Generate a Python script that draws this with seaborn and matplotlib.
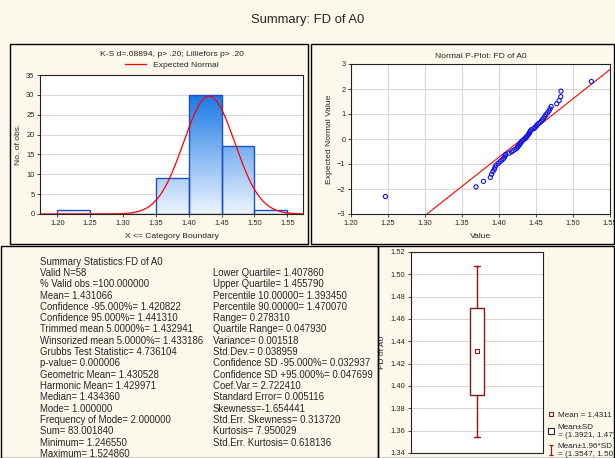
import numpy as np
import matplotlib
matplotlib.use("Agg")
import matplotlib.pyplot as plt
import seaborn as sns
from matplotlib.patches import Rectangle, Patch
from matplotlib.lines import Line2D
from matplotlib.path import Path
from statistics import NormalDist

sns.set_style("white")
plt.rcParams['font.family'] = ['Liberation Sans', 'DejaVu Sans']

fd_values = [1.24655, 1.3690, 1.3790, 1.3883, 1.3900, 1.3918, 1.3937, 1.3946,
             1.3960, 1.3990, 1.4015, 1.4040, 1.4060, 1.4074, 1.4083, 1.4092,
             1.4135, 1.4170, 1.4190, 1.4215, 1.4237, 1.4250, 1.4260, 1.4275,
             1.4284, 1.4293, 1.4302, 1.4318, 1.4333, 1.4354, 1.4365, 1.4378,
             1.4390, 1.4400, 1.4410, 1.4418, 1.4425, 1.4440, 1.4475, 1.4488,
             1.4505, 1.4515, 1.4535, 1.4558, 1.4575, 1.4590, 1.4605, 1.4620,
             1.4635, 1.4655, 1.4675, 1.4690, 1.4705, 1.4780, 1.4812, 1.4834,
             1.4838, 1.52486]
bin_edges = [1.20, 1.25, 1.30, 1.35, 1.40, 1.45, 1.50, 1.55]
mean_val = 1.431066
sd_val = 0.038959

left_stats = ["Summary Statistics:FD of A0", "Valid N=58", "% Valid obs.=100.000000",
              "Mean= 1.431066", "Confidence -95.000%= 1.420822",
              "Confidence 95.000%= 1.441310", "Trimmed mean 5.0000%= 1.432941",
              "Winsorized mean 5.0000%= 1.433186", "Grubbs Test Statistic= 4.736104",
              "p-value= 0.000006", "Geometric Mean= 1.430528", "Harmonic Mean= 1.429971",
              "Median= 1.434360", "Mode= 1.000000", "Frequency of Mode= 2.000000",
              "Sum= 83.001840", "Minimum= 1.246550", "Maximum= 1.524860"]
right_stats = ["Lower Quartile= 1.407860", "Upper Quartile= 1.455790",
               "Percentile 10.00000= 1.393450", "Percentile 90.00000= 1.470070",
               "Range= 0.278310", "Quartile Range= 0.047930", "Variance= 0.001518",
               "Std.Dev.= 0.038959", "Confidence SD -95.000%= 0.032937",
               "Confidence SD +95.000%= 0.047699", "Coef.Var.= 2.722410",
               "Standard Error= 0.005116", "Skewness=-1.654441",
               "Std.Err. Skewness= 0.313720", "Kurtosis= 7.950029",
               "Std.Err. Kurtosis= 0.618136"]

W, H = 615, 458
bg = "#fdf8ec"
fig = plt.figure(figsize=(W / 100, H / 100), dpi=100, facecolor=bg)


def fx(px):
    return px / W


def fy(py):
    return 1 - py / H


def box_rect(x0, y0, x1, y1):
    fig.add_artist(Rectangle((fx(x0), fy(y1)), fx(x1 - x0), (y1 - y0) / H,
                             transform=fig.transFigure, fill=False, ec="black", lw=1))


box_rect(9.5, 44, 308, 244)
box_rect(311, 44, 614, 244)
box_rect(0.5, 246, 378, 457.5)
box_rect(378, 246, 614, 457.5)

fig.text(0.5, fy(20), "Summary: FD of A0", ha="center", va="center", fontsize=9.4)

tick_fs = 5.4
lab_fs = 6.1

# ---- histogram ----
ax1 = fig.add_axes([fx(40), fy(214), fx(263), 139 / H])
ax1.set_facecolor("white")
sns.histplot(x=fd_values, bins=bin_edges, ax=ax1, stat="count",
             color="#3b8ef0", edgecolor="#1d4fc4", linewidth=1, alpha=1)
grad = np.linspace(0, 1, 256).reshape(-1, 1)
cmap = matplotlib.colors.LinearSegmentedColormap.from_list("g", ["#eef5fe", "#1a78e6"])
for p in ax1.patches:
    if p.get_height() <= 0:
        continue
    im = ax1.imshow(grad, extent=[p.get_x(), p.get_x() + p.get_width(), 0, 30],
                    origin="lower", cmap=cmap, aspect="auto", zorder=1.5)
    im.set_clip_path(p)
    p.set_facecolor("none")
    p.set_zorder(2)
ax1.set_xlim(1.1737, 1.5739)
ax1.set_ylim(0, 35)
xs = np.linspace(1.1737, 1.5739, 300)
binw = 0.05
curve = len(fd_values) * binw * np.array([NormalDist(mean_val, sd_val).pdf(v) for v in xs])
sns.lineplot(x=xs, y=curve, ax=ax1, color="red", lw=0.9, zorder=3)
ax1.set_xticks(bin_edges)
ax1.set_xticklabels([f"{v:.2f}" for v in bin_edges])
ax1.set_yticks(range(0, 36, 5))
ax1.yaxis.grid(True, color="#d8d8d8", lw=0.8)
ax1.set_axisbelow(True)
ax1.set_xlabel("X <= Category Boundary", fontsize=lab_fs, labelpad=5)
ax1.set_ylabel("No. of obs.", fontsize=lab_fs, labelpad=3)
ax1.tick_params(labelsize=tick_fs, length=2, width=0.6, pad=2, direction="out",
                left=True, bottom=True)
ax1.set_title("K-S d=.08894, p> .20; Lilliefors p> .20", fontsize=lab_fs, pad=14)
ax1.legend(handles=[Line2D([], [], color="red", lw=0.9)], labels=["Expected Normal"],
           loc="lower center", bbox_to_anchor=(0.5, 1.0), frameon=False,
           fontsize=lab_fs, handlelength=2.5, borderpad=0.2)
for s in ax1.spines.values():
    s.set_color("#222222")
    s.set_linewidth(0.8)

# ---- normal probability plot ----
n = len(fd_values)
expected = [NormalDist().inv_cdf((i - 0.375) / (n + 0.25)) for i in range(1, n + 1)]
ax2 = fig.add_axes([fx(351), fy(214), fx(259), 150 / H])
ax2.set_facecolor("white")
ax2.set_xlim(1.20, 1.55)
ax2.set_ylim(-3, 3)
sns.regplot(x=fd_values, y=expected, ax=ax2, scatter=False, ci=None, truncate=False,
            line_kws={"color": "red", "lw": 0.8})
sns.scatterplot(x=fd_values, y=expected, ax=ax2, marker="o", s=9,
                facecolor="none", edgecolor="#1414e6", linewidth=0.8, zorder=4)
ax2.set_xlim(1.20, 1.55)
ax2.set_ylim(-3, 3)
ax2.set_xticks(bin_edges)
ax2.set_xticklabels([f"{v:.2f}" for v in bin_edges])
ax2.set_yticks(range(-3, 4))
ax2.grid(True, color="#d8d8d8", lw=0.8)
ax2.set_axisbelow(True)
ax2.set_xlabel("Value", fontsize=lab_fs, labelpad=5)
ax2.set_ylabel("Expected Normal Value", fontsize=lab_fs, labelpad=3)
ax2.set_title("Normal P-Plot: FD of A0", fontsize=lab_fs, pad=4)
ax2.tick_params(labelsize=tick_fs, length=2, width=0.6, pad=2, direction="out",
                left=True, bottom=True)
for s in ax2.spines.values():
    s.set_color("#222222")
    s.set_linewidth(0.8)

# ---- summary statistics text ----
y0, step = 261.7, 11.3
for i, t in enumerate(left_stats):
    fig.text(fx(40), fy(y0 + i * step), t, fontsize=6.95, va="center", ha="left")
for i, t in enumerate(right_stats):
    fig.text(fx(213), fy(y0 + (i + 1) * step), t, fontsize=6.95, va="center", ha="left")

# ---- mean / sd box ----
dark_red = "#7e1a1a"
ax3 = fig.add_axes([fx(411), fy(453), fx(132), 201 / H])
ax3.set_facecolor("white")
stats = [{"med": mean_val, "mean": mean_val, "q1": mean_val - sd_val,
          "q3": mean_val + sd_val, "whislo": mean_val - 1.96 * sd_val,
          "whishi": mean_val + 1.96 * sd_val, "fliers": []}]
ax3.bxp(stats, positions=[0], widths=0.21, showmeans=True, patch_artist=True,
        boxprops={"facecolor": "white", "edgecolor": dark_red, "lw": 1.0},
        whiskerprops={"color": "#a01010", "lw": 1.0},
        capprops={"color": "#a01010", "lw": 1.0}, capwidths=0.08,
        medianprops={"lw": 0},
        meanprops={"marker": "s", "markersize": 2.5, "markerfacecolor": "white",
                   "markeredgecolor": dark_red, "markeredgewidth": 0.8})
ax3.set_xlim(-1, 1)
ax3.set_ylim(1.34, 1.52)
ax3.set_yticks(np.arange(1.34, 1.521, 0.02))
ax3.set_yticklabels([f"{v:.2f}" for v in np.arange(1.34, 1.521, 0.02)])
ax3.set_xticks([])
ax3.yaxis.grid(True, color="#d8d8d8", lw=0.8)
ax3.set_axisbelow(True)
ax3.set_ylabel("FD of A0", fontsize=lab_fs, labelpad=3)
ax3.tick_params(labelsize=tick_fs, length=2, width=0.6, pad=2, direction="out", left=True)
for s in ax3.spines.values():
    s.set_color("#222222")
    s.set_linewidth(0.8)

ibeam = Path([(-0.5, 1), (0.5, 1), (0, 1), (0, -1), (-0.5, -1), (0.5, -1)],
             [Path.MOVETO, Path.LINETO, Path.MOVETO, Path.LINETO, Path.MOVETO, Path.LINETO])
handles = [Line2D([], [], ls="none", marker="s", markersize=2.5, markerfacecolor="white",
                  markeredgecolor=dark_red, markeredgewidth=0.8),
           Patch(facecolor="white", edgecolor="#222222", lw=0.8),
           Line2D([], [], ls="none", marker=ibeam, markersize=7, markerfacecolor="none",
                  markeredgecolor="#a01010", markeredgewidth=0.9)]
labels = ["Mean = 1.4311", "Mean±SD\n= (1.3921, 1.47)", "Mean±1.96*SD\n= (1.3547, 1.5074)"]
ax3.legend(handles, labels, loc="lower left", bbox_to_anchor=(1.0, -0.05), frameon=False,
           fontsize=5.9, handlelength=0.8, handletextpad=0.4, labelspacing=0.55,
           borderaxespad=0.2)

fig.savefig("out.png", dpi=100, facecolor=bg)
